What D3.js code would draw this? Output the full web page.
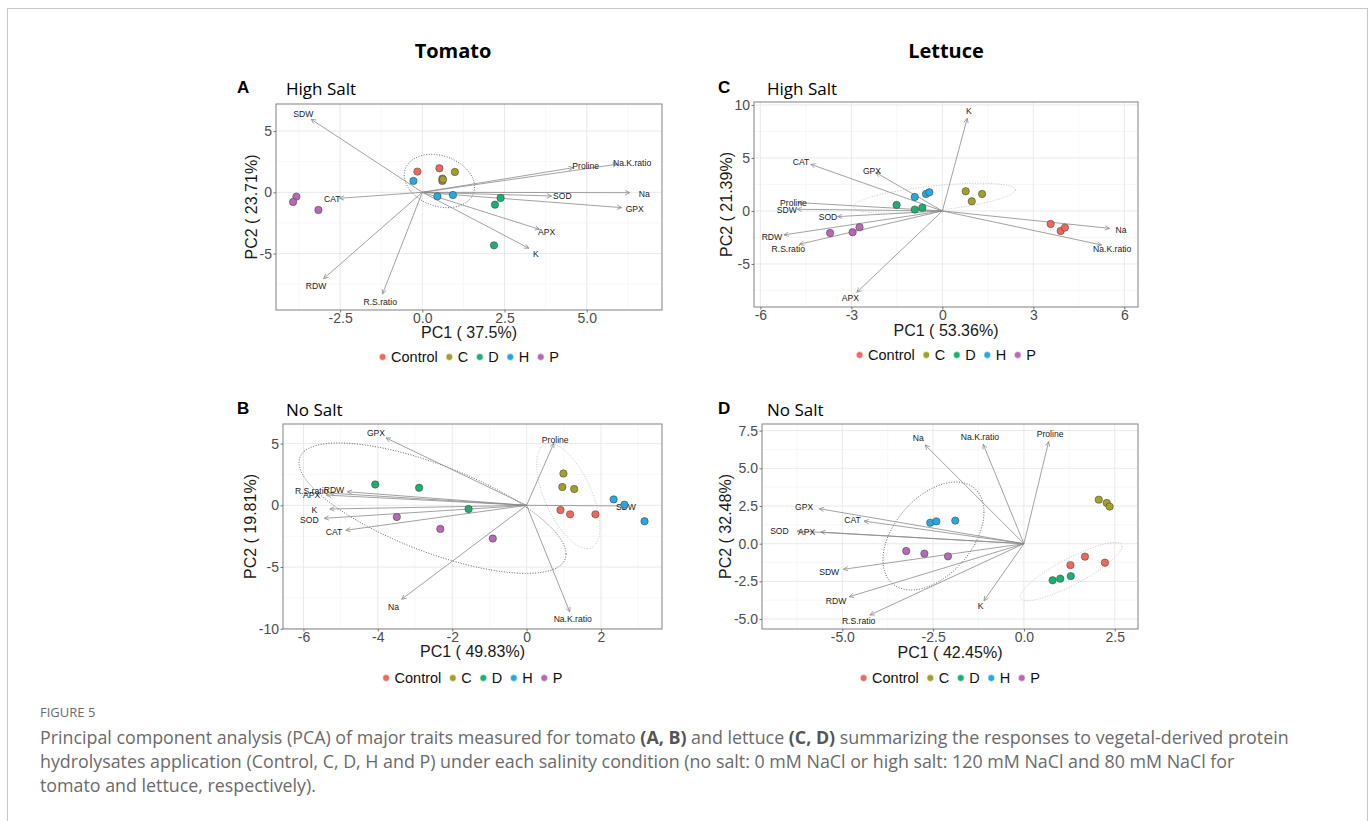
<!DOCTYPE html>
<html>
<head>
<meta charset="utf-8">
<script src="https://cdn.jsdelivr.net/npm/d3@7"></script>
<style>
body{margin:0;background:#fff;}
svg{display:block;}
</style>
</head>
<body>
<svg id="fig" width="1372" height="821"></svg>
<script>
//groups and colours
const groups = ["Control", "C", "D", "H", "P"];
const groupColors = ["#EF675D", "#A1A02B", "#1DAF72", "#29A7E1", "#B769B6"];

//----- A : tomato, high salt
const xDomainA = [-4.45, 7.29];
const yDomainA = [-9.61, 7.21];
const xTicksA = [-2.5, 0, 2.5, 5];
const yTicksA = [-5, 0, 5];
const scoresA = [
	["Control", -0.15, 1.69], ["Control", 0.52, 1.96], ["Control", 0.61, 0.93],
	["C", 0.61, 1.12], ["C", 0.99, 1.66], ["C", 0.63, 1.05],
	["D", 2.38, -0.46], ["D", 2.21, -1.01], ["D", 2.18, -4.33],
	["H", -0.27, 0.93], ["H", 0.46, -0.33], ["H", 0.93, -0.22],
	["P", -3.83, -0.35], ["P", -3.93, -0.79], ["P", -3.16, -1.44]
];
//name, arrow x, arrow y, label x, label y
const loadingsA = [
	["SDW", -3.38, 5.96, -3.62, 6.37],
	["CAT", -2.52, -0.49, -2.74, -0.54],
	["RDW", -3.0, -7.05, -3.23, -7.62],
	["R.S.ratio", -1.21, -8.3, -1.28, -8.93],
	["Proline", 4.59, 2.01, 4.97, 2.18],
	["Na.K.ratio", 5.93, 2.29, 6.38, 2.37],
	["Na", 6.31, -0.03, 6.75, -0.11],
	["SOD", 3.93, -0.30, 4.26, -0.33],
	["GPX", 6.06, -1.25, 6.46, -1.36],
	["APX", 3.56, -3.02, 3.78, -3.27],
	["K", 3.24, -4.57, 3.45, -5.01]
];
//centre x, centre y, u vector, v vector, line kind
const ellipsesA = [[0.52, 0.92, 1.07, -0.49, 0, -2.12, "dark"]];

//----- C : lettuce, high salt
const xDomainC = [-6.21, 6.45];
const yDomainC = [-9.06, 10.28];
const xTicksC = [-6, -3, 0, 3, 6];
const yTicksC = [-5, 0, 5, 10];
const scoresC = [
	["Control", 3.57, -1.23], ["Control", 3.90, -1.89], ["Control", 4.04, -1.57],
	["C", 0.77, 1.86], ["C", 1.31, 1.60], ["C", 0.97, 0.91],
	["D", -1.51, 0.57], ["D", -0.91, 0.13], ["D", -0.66, 0.31],
	["H", -0.91, 1.32], ["H", -0.54, 1.60], ["H", -0.43, 1.76],
	["P", -3.70, -2.08], ["P", -2.96, -2.01], ["P", -2.73, -1.54]
];
const loadingsC = [
	["K", 0.82, 8.74, 0.87, 9.43],
	["CAT", -4.34, 4.40, -4.66, 4.65],
	["GPX", -2.19, 3.62, -2.32, 3.77],
	["Proline", -4.75, 0.79, -4.91, 0.75],
	["SDW", -4.78, 0.16, -5.13, 0.13],
	["SOD", -3.45, -0.53, -3.77, -0.60],
	["RDW", -5.22, -2.26, -5.62, -2.45],
	["R.S.ratio", -4.71, -3.14, -5.08, -3.55],
	["APX", -2.82, -7.67, -3.03, -8.24],
	["Na", 5.51, -1.64, 5.89, -1.82],
	["Na.K.ratio", 5.25, -3.21, 5.60, -3.58]
];
const ellipsesC = [[-0.26, 1.2, 2.67, 0.79, 0, -1.17, "light"]];

//----- B : tomato, no salt
const xDomainB = [-6.55, 3.64];
const yDomainB = [-10.02, 6.59];
const xTicksB = [-6, -4, -2, 0, 2];
const yTicksB = [-10, -5, 0, 5];
const scoresB = [
	["Control", 0.91, -0.38], ["Control", 1.17, -0.73], ["Control", 1.85, -0.73],
	["C", 0.99, 2.58], ["C", 0.96, 1.48], ["C", 1.28, 1.32],
	["D", -4.07, 1.69], ["D", -2.89, 1.42], ["D", -1.56, -0.30],
	["H", 2.34, 0.48], ["H", 2.63, 0.05], ["H", 3.17, -1.29],
	["P", -3.49, -0.94], ["P", -2.32, -1.91], ["P", -0.91, -2.69]
];
const loadingsB = [
	["GPX", -3.78, 5.46, -4.05, 5.83],
	["Proline", 0.73, 5.03, 0.77, 5.32],
	["RDW", -4.82, 1.10, -5.18, 1.21],
	["R.S.ratio", -5.29, 0.99, -5.78, 1.13],
	["APX", -5.38, 0.83, -5.78, 0.85],
	["K", -5.29, -0.30, -5.71, -0.35],
	["SOD", -5.44, -1.05, -5.84, -1.21],
	["CAT", -4.86, -2.02, -5.18, -2.16],
	["Na", -3.36, -7.61, -3.58, -8.23],
	["Na.K.ratio", 1.16, -8.63, 1.24, -9.22],
	["SDW", 2.70, -0.05, 2.67, -0.13]
];
const ellipsesB = [
	[-2.53, -0.23, 3.59, -3.71, 0, -3.76, "dark"],
	[1.12, 0.76, 0.51, -4.27, 0.68, 0, "light"]
];

//----- D : lettuce, no salt
const xDomainD = [-7.21, 3.14];
const yDomainD = [-5.66, 7.94];
const xTicksD = [-5, -2.5, 0, 2.5];
const yTicksD = [-5, -2.5, 0, 2.5, 5, 7.5];
const scoresD = [
	["Control", 1.68, -0.86], ["Control", 1.28, -1.42], ["Control", 2.23, -1.26],
	["C", 2.06, 2.92], ["C", 2.28, 2.70], ["C", 2.36, 2.46],
	["D", 0.79, -2.43], ["D", 1.0, -2.32], ["D", 1.29, -2.15],
	["H", -2.58, 1.39], ["H", -2.41, 1.48], ["H", -1.89, 1.53],
	["P", -3.24, -0.49], ["P", -2.74, -0.66], ["P", -2.09, -0.84]
];
const loadingsD = [
	["Na", -2.72, 6.55, -2.91, 7.04],
	["Na.K.ratio", -1.12, 6.59, -1.21, 7.10],
	["Proline", 0.68, 6.77, 0.72, 7.30],
	["GPX", -5.63, 2.32, -6.05, 2.41],
	["CAT", -4.40, 1.50, -4.72, 1.57],
	["APX", -5.59, 0.77, -5.98, 0.77],
	["SOD", -6.24, 0.84, -6.73, 0.86],
	["SDW", -4.97, -1.70, -5.36, -1.88],
	["RDW", -4.81, -3.52, -5.17, -3.78],
	["R.S.ratio", -4.24, -4.73, -4.55, -5.11],
	["K", -1.10, -3.78, -1.19, -4.12]
];
const ellipsesD = [
	[-2.49, 0.51, 1.39, 1.59, 0, -3.21, "dark"],
	[1.30, -1.85, 1.40, 1.66, 0, -0.98, "light"]
];


const svg = d3.select("#fig");
const sans = "'Liberation Sans', Arial, sans-serif";
const open = "'Open Sans', 'Noto Sans', sans-serif";

//outer frame of the figure
svg.append("rect")
	.attr("x", 7.5).attr("y", 8.5)
	.attr("width", 1360).attr("height", 840)
	.attr("fill", "none")
	.attr("stroke", "#c8c8c8");

const colorOf = d3.scaleOrdinal().domain(groups).range(groupColors);

//minor breaks half way between majors
function minorBreaks(ticks, dom){
	let step = ticks[1] - ticks[0];
	let out = [];
	for (let v = ticks[0] - step/2; v <= ticks[ticks.length-1] + step/2 + 1e-9; v += step){
		if (v > dom[0] && v < dom[1]) out.push(v);
	}
	return out;
}

let clipId = 0;

function drawPanel(p){
	let box = p.box;
	let x = d3.scaleLinear().domain(p.xDom).range([box.x0, box.x1]);
	let y = d3.scaleLinear().domain(p.yDom).range([box.y1, box.y0]);
	let g = svg.append("g");

	let fmtX = (d) => d3.format(p.fmtX)(d).replace("\u2212", "-");
	let fmtY = (d) => d3.format(p.fmtY)(d).replace("\u2212", "-");

	//panel
	g.append("rect")
		.attr("x", box.x0).attr("y", box.y0)
		.attr("width", box.x1 - box.x0).attr("height", box.y1 - box.y0)
		.attr("fill", "#fff");

	clipId++;
	g.append("clipPath").attr("id", "clip" + clipId)
		.append("rect")
		.attr("x", box.x0).attr("y", box.y0)
		.attr("width", box.x1 - box.x0).attr("height", box.y1 - box.y0);

	let inner = g.append("g").attr("clip-path", `url(#clip${clipId})`);

	//grid
	inner.selectAll(".minx").data(minorBreaks(p.xTicks, p.xDom)).join("line")
		.attr("x1", d => x(d)).attr("x2", d => x(d))
		.attr("y1", box.y0).attr("y2", box.y1)
		.attr("stroke", "#f2f2f2").attr("stroke-width", 0.6);
	inner.selectAll(".miny").data(minorBreaks(p.yTicks, p.yDom)).join("line")
		.attr("y1", d => y(d)).attr("y2", d => y(d))
		.attr("x1", box.x0).attr("x2", box.x1)
		.attr("stroke", "#f2f2f2").attr("stroke-width", 0.6);
	inner.selectAll(".majx").data(p.xTicks).join("line")
		.attr("x1", d => x(d)).attr("x2", d => x(d))
		.attr("y1", box.y0).attr("y2", box.y1)
		.attr("stroke", "#e6e6e6").attr("stroke-width", 0.9);
	inner.selectAll(".majy").data(p.yTicks).join("line")
		.attr("y1", d => y(d)).attr("y2", d => y(d))
		.attr("x1", box.x0).attr("x2", box.x1)
		.attr("stroke", "#e6e6e6").attr("stroke-width", 0.9);

	//ellipses
	let ts = d3.range(0, 2*Math.PI + 0.01, Math.PI/90);
	p.ells.forEach(e => {
		let line = d3.line()
			.x(t => x(e[0] + e[2]*Math.cos(t) + e[4]*Math.sin(t)))
			.y(t => y(e[1] + e[3]*Math.cos(t) + e[5]*Math.sin(t)));
		inner.append("path")
			.attr("d", line(ts))
			.attr("fill", "none")
			.attr("stroke", e[6] === "dark" ? "#555" : "#bdbdbd")
			.attr("stroke-width", 0.9)
			.attr("stroke-dasharray", "1,1.6");
	});

	//arrows
	let arrows = inner.append("g");
	p.loads.forEach(l => {
		let x0 = x(0), y0 = y(0), x1 = x(l[1]), y1 = y(l[2]);
		arrows.append("line")
			.attr("x1", x0).attr("y1", y0).attr("x2", x1).attr("y2", y1)
			.attr("stroke", "#8a8a8a").attr("stroke-width", 0.8);
		let ang = Math.atan2(y1 - y0, x1 - x0);
		[-0.45, 0.45].forEach(da => {
			arrows.append("line")
				.attr("x1", x1).attr("y1", y1)
				.attr("x2", x1 - 5*Math.cos(ang + da))
				.attr("y2", y1 - 5*Math.sin(ang + da))
				.attr("stroke", "#8a8a8a").attr("stroke-width", 0.8);
		});
	});
	inner.append("g").selectAll("text").data(p.loads).join("text")
		.attr("x", d => x(d[3]))
		.attr("y", d => y(d[4]))
		.attr("dy", "0.35em")
		.attr("text-anchor", "middle")
		.attr("font-family", sans)
		.attr("font-size", 8.6)
		.attr("fill", "#1a1a1a")
		.text(d => d[0]);

	//points
	inner.append("g").selectAll("circle").data(p.pts).join("circle")
		.attr("cx", d => x(d[1]))
		.attr("cy", d => y(d[2]))
		.attr("r", 3.7)
		.attr("fill", d => colorOf(d[0]))
		.attr("stroke", "#3a3a3a")
		.attr("stroke-width", 0.5);

	//border
	g.append("rect")
		.attr("x", box.x0).attr("y", box.y0)
		.attr("width", box.x1 - box.x0).attr("height", box.y1 - box.y0)
		.attr("fill", "none")
		.attr("stroke", "#8c8c8c").attr("stroke-width", 1.1);

	//axes
	let xAxis = d3.axisBottom(x).tickValues(p.xTicks).tickFormat(fmtX).tickSize(2.5).tickPadding(0.5);
	let yAxis = d3.axisLeft(y).tickValues(p.yTicks).tickFormat(fmtY).tickSize(2.5).tickPadding(1.5);

	let styleAxis = (a) => {
		a.select(".domain").remove();
		a.selectAll("line").attr("stroke", "#555").attr("stroke-width", 0.8);
		a.selectAll("text")
			.attr("font-family", sans)
			.attr("font-size", 14)
			.attr("fill", "#4d4d4d");
	};

	g.append("g").attr("transform", `translate(0,${box.y1})`).call(xAxis).call(styleAxis);
	let ya = g.append("g").attr("transform", `translate(${box.x0},0)`).call(yAxis).call(styleAxis);

	//axis titles
	g.append("text")
		.attr("x", (box.x0 + box.x1)/2)
		.attr("y", box.y1 + p.xTitleDy)
		.attr("text-anchor", "middle")
		.attr("font-family", sans)
		.attr("font-size", 16)
		.attr("fill", "#1a1a1a")
		.text(p.xTitle);

	//y title sits just left of the widest tick label
	let bb = ya.node().getBBox();
	let cy = (box.y0 + box.y1)/2;
	let cx = box.x0 + bb.x - 8;
	g.append("text")
		.attr("transform", `translate(${cx},${cy}) rotate(-90)`)
		.attr("dy", "0.35em")
		.attr("text-anchor", "middle")
		.attr("font-family", sans)
		.attr("font-size", 16)
		.attr("fill", "#1a1a1a")
		.text(p.yTitle);

	//panel letter and title
	g.append("text")
		.attr("x", p.letterX).attr("y", p.titleY - 2)
		.attr("font-family", sans)
		.attr("font-weight", "bold")
		.attr("font-size", 17)
		.attr("fill", "#000")
		.text(p.letter);
	g.append("text")
		.attr("x", p.letterX + 49).attr("y", p.titleY)
		.attr("font-family", open)
		.attr("font-size", 17)
		.attr("fill", "#000")
		.text(p.title);

	//legend
	let leg = g.append("g");
	let lx = 0;
	groups.forEach((gr) => {
		let item = leg.append("g").attr("transform", `translate(${lx},0)`);
		item.append("circle")
			.attr("cx", 3.5).attr("cy", -5)
			.attr("r", 3.4)
			.attr("fill", colorOf(gr))
			.attr("stroke", "#fff").attr("stroke-width", 0.6);
		let t = item.append("text")
			.attr("x", 12).attr("y", 0)
			.attr("font-family", sans)
			.attr("font-size", 14.5)
			.attr("fill", "#111")
			.text(gr);
		lx += 12 + t.node().getComputedTextLength() + 8;
	});
	let legW = lx - 8;
	leg.attr("transform", `translate(${(box.x0 + box.x1)/2 - legW/2},${box.y1 + p.legendDy})`);
}

drawPanel({
	box: {x0: 276, x1: 662, y0: 104, y1: 310},
	xDom: xDomainA, yDom: yDomainA, xTicks: xTicksA, yTicks: yTicksA,
	fmtX: ".1f", fmtY: "d",
	pts: scoresA, loads: loadingsA, ells: ellipsesA,
	letter: "A", title: "High Salt", letterX: 237, titleY: 95,
	xTitle: "PC1 ( 37.5%)", yTitle: "PC2 ( 23.71%)",
	xTitleDy: 27.5, legendDy: 52
});

drawPanel({
	box: {x0: 754, x1: 1138, y0: 102, y1: 307},
	xDom: xDomainC, yDom: yDomainC, xTicks: xTicksC, yTicks: yTicksC,
	fmtX: "d", fmtY: "d",
	pts: scoresC, loads: loadingsC, ells: ellipsesC,
	letter: "C", title: "High Salt", letterX: 718, titleY: 95,
	xTitle: "PC1 ( 53.36%)", yTitle: "PC2 ( 21.39%)",
	xTitleDy: 28.5, legendDy: 53
});

drawPanel({
	box: {x0: 283, x1: 662, y0: 424, y1: 629},
	xDom: xDomainB, yDom: yDomainB, xTicks: xTicksB, yTicks: yTicksB,
	fmtX: "d", fmtY: "d",
	pts: scoresB, loads: loadingsB, ells: ellipsesB,
	letter: "B", title: "No Salt", letterX: 237, titleY: 416,
	xTitle: "PC1 ( 49.83%)", yTitle: "PC2 ( 19.81%)",
	xTitleDy: 27.5, legendDy: 54
});

drawPanel({
	box: {x0: 762, x1: 1138, y0: 424, y1: 629},
	xDom: xDomainD, yDom: yDomainD, xTicks: xTicksD, yTicks: yTicksD,
	fmtX: ".1f", fmtY: ".1f",
	pts: scoresD, loads: loadingsD, ells: ellipsesD,
	letter: "D", title: "No Salt", letterX: 718, titleY: 416,
	xTitle: "PC1 ( 42.45%)", yTitle: "PC2 ( 32.48%)",
	xTitleDy: 28.5, legendDy: 54
});

//column headers
svg.append("text").attr("x", 453).attr("y", 58)
	.attr("text-anchor", "middle")
	.attr("font-family", open).attr("font-weight", "bold").attr("font-size", 20)
	.text("Tomato");
svg.append("text").attr("x", 946).attr("y", 58)
	.attr("text-anchor", "middle")
	.attr("font-family", open).attr("font-weight", "bold").attr("font-size", 20)
	.text("Lettuce");

//caption
svg.append("text").attr("x", 40).attr("y", 717)
	.attr("font-family", open).attr("font-size", 13)
	.attr("fill", "#6b6b6b")
	.text("FIGURE 5");

const captionLines = [
	[["Principal component analysis (PCA) of major traits measured for tomato ", false], ["(A, B)", true],
		[" and lettuce ", false], ["(C, D)", true], [" summarizing the responses to vegetal-derived protein", false]],
	[["hydrolysates application (Control, C, D, H and P) under each salinity condition (no salt: 0 mM NaCl or high salt: 120 mM NaCl and 80 mM NaCl for", false]],
	[["tomato and lettuce, respectively).", false]]
];
let capNodes = captionLines.map((ln, i) => {
	let t = svg.append("text")
		.attr("x", 40).attr("y", 744 + i*24)
		.attr("font-family", open).attr("font-size", 16)
		.attr("fill", "#6b6b6b");
	ln.forEach(seg => {
		t.append("tspan")
			.attr("font-weight", seg[1] ? "bold" : null)
			.attr("fill", seg[1] ? "#555" : null)
			.text(seg[0]);
	});
	return t;
});
//the journal face is wider than Open Sans: grow the size so the first line spans the same width
let w1 = capNodes[0].node().getComputedTextLength();
let capSize = 16 * 1250 / w1;
capNodes.forEach(t => t.attr("font-size", capSize));
</script>
</body>
</html>
